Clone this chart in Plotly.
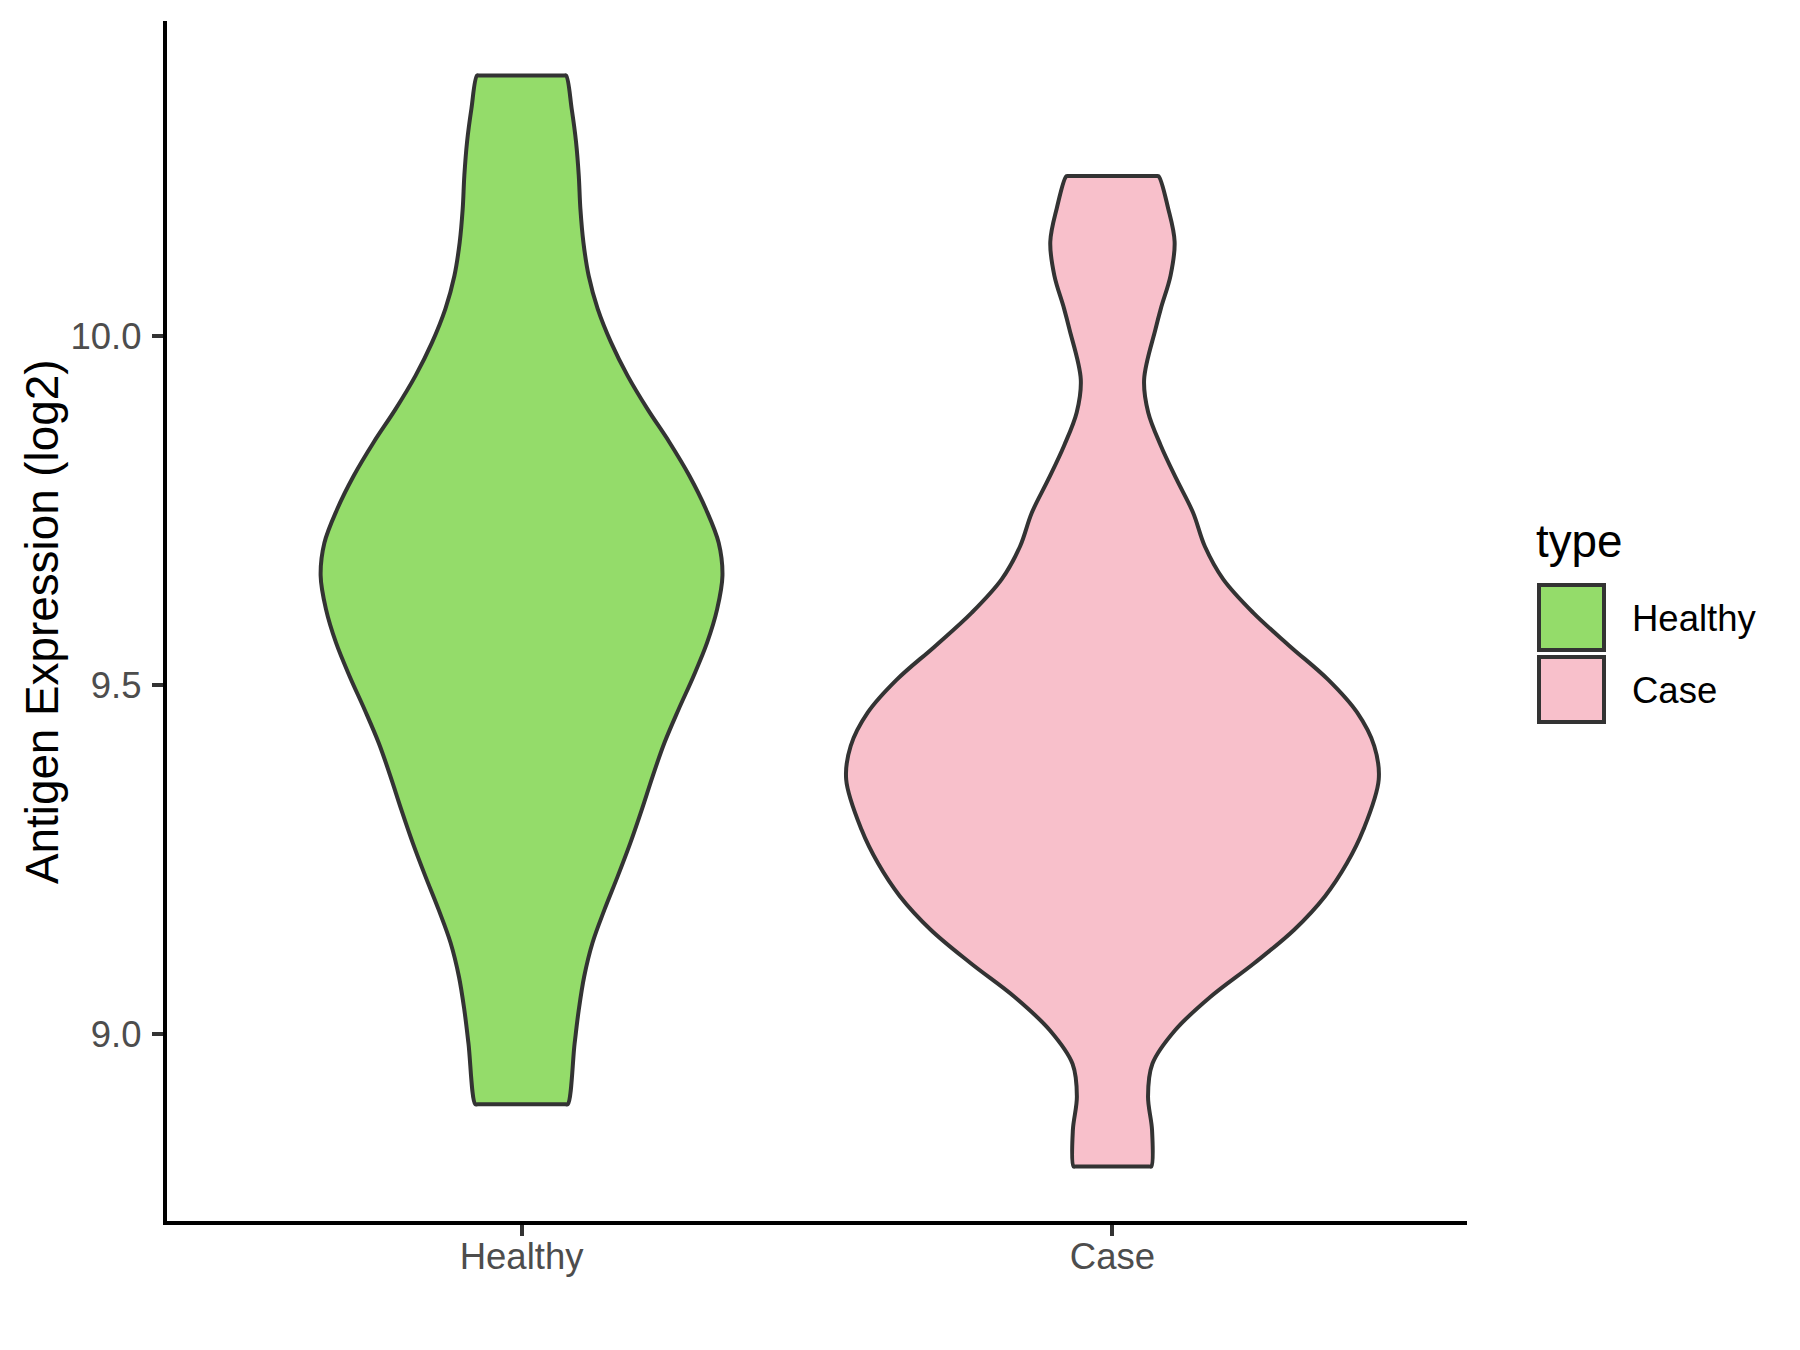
import plotly.graph_objects as go

# ---------------- data ----------------
categories = ["Healthy", "Case"]
legend_title = "type"
y_title = "Antigen Expression (log2)"
y_ticks = [9.0, 9.5, 10.0]
y_ticktext = ["9.0", "9.5", "10.0"]

# violin outline: expression level (top -> bottom) and half-width (density, x units)
healthy_y = [10.373, 10.325, 10.278, 10.230, 10.182, 10.134, 10.086, 10.039, 9.991,
             9.943, 9.895, 9.848, 9.800, 9.752, 9.704, 9.657, 9.609, 9.561, 9.513,
             9.465, 9.417, 9.370, 9.322, 9.274, 9.226, 9.178, 9.131, 9.083, 9.035,
             8.987, 8.900]
healthy_w = [0.0753, 0.0849, 0.0922, 0.0968, 0.0996, 0.1047, 0.1137, 0.1289, 0.1514,
             0.1796, 0.2135, 0.2502, 0.2840, 0.3121, 0.3336, 0.3400, 0.3310, 0.3140,
             0.2910, 0.2655, 0.2415, 0.2220, 0.2035, 0.1840, 0.1625, 0.1400, 0.1200,
             0.1060, 0.0968, 0.0898, 0.0782]

case_y = [10.229, 10.183, 10.135, 10.087, 10.040, 10.010, 9.938, 9.891, 9.843, 9.795,
          9.747, 9.699, 9.652, 9.604, 9.556, 9.508, 9.461, 9.413, 9.365, 9.293,
          9.245, 9.198, 9.150, 9.102, 9.054, 9.006, 8.958, 8.911, 8.863, 8.811]
case_w = [0.0779, 0.0942, 0.1052, 0.0984, 0.0821, 0.0729, 0.0536, 0.0604, 0.0819,
          0.1084, 0.1365, 0.1563, 0.1873, 0.2380, 0.3001, 0.3650, 0.4140, 0.4430,
          0.4506, 0.4245, 0.3967, 0.3598, 0.3076, 0.2398, 0.1660, 0.1060, 0.0676,
          0.0602, 0.0670, 0.0658]

fill_colors = ["#94DC6A", "#F8C0CB"]
outline_color = "#333333"

# ---------------- figure geometry ----------------
OFF = 8                      # page body margin of the written html
W, H = 1800 - OFF, 1350 - OFF
ML, MR, MT, MB = 159, 333, 13, 129
PW, PH = W - ML - MR, H - MT - MB
FONT = "Liberation Sans, Arial, Helvetica, sans-serif"


def px(x_page):
    return (x_page - OFF - ML) / PW


def py(y_page):
    return (H - MB - (y_page - OFF)) / PH


def violin_path(pos, ys, ws, eps=0.004):
    """Closed outline; tiny steps along the flat ends keep the corners sharp."""
    xs, yy = [], []
    for y, w in zip(ys, ws):                      # left side, top -> bottom
        xs.append(pos - w); yy.append(y)
    wb, yb = ws[-1], ys[-1]
    xs += [pos - wb + eps, pos + wb - eps]; yy += [yb, yb]
    for y, w in zip(reversed(ys), reversed(ws)):  # right side, bottom -> top
        xs.append(pos + w); yy.append(y)
    wt, yt = ws[0], ys[0]
    xs += [pos + wt - eps, pos - wt + eps, pos - wt]; yy += [yt, yt, yt]
    return xs, yy


fig = go.Figure()
for i, (ys, ws) in enumerate([(healthy_y, healthy_w), (case_y, case_w)]):
    xs, yy = violin_path(i + 1, ys, ws)
    fig.add_trace(go.Scatter(
        x=xs, y=yy, mode="lines", fill="toself",
        fillcolor=fill_colors[i],
        line=dict(color=outline_color, width=4, shape="spline", smoothing=1.0),
        name=categories[i], showlegend=False, hoverinfo="skip",
    ))

all_y = healthy_y + case_y
lo, hi = min(all_y), max(all_y)
pad = 0.05 * (hi - lo)

axis_common = dict(
    showgrid=False, zeroline=False,
    showline=True, linecolor="black", linewidth=4.3,
    ticks="outside", ticklen=11, tickwidth=4, tickcolor=outline_color,
    tickfont=dict(size=36.5, color="#4D4D4D", family=FONT),
)

fig.update_layout(
    width=W, height=H,
    margin=dict(l=ML, r=MR, t=MT, b=MB, autoexpand=False),
    paper_bgcolor="white", plot_bgcolor="white",
    font=dict(family=FONT, color="black"),
    showlegend=False,
    xaxis=dict(range=[0.4, 2.6], tickvals=[1, 2], ticktext=categories,
               ticklabelstandoff=-11, **axis_common),
    yaxis=dict(range=[lo - pad, hi + pad], tickvals=y_ticks, ticktext=y_ticktext,
               ticklabelstandoff=3, **axis_common),
)

# y-axis title
fig.add_annotation(
    text=y_title, xref="paper", yref="paper", x=px(42), y=py(622),
    xanchor="center", yanchor="middle", textangle=-90, showarrow=False,
    font=dict(size=45.8, color="black", family=FONT),
)

# legend (title, keys, labels)
fig.add_annotation(
    text=legend_title, xref="paper", yref="paper", x=px(1534), y=py(541),
    xanchor="left", yanchor="middle", showarrow=False,
    font=dict(size=45.8, color="black", family=FONT),
)
key_tops = [585, 657]
label_y = [618, 690]
for i, name in enumerate(categories):
    fig.add_shape(
        type="rect", xref="paper", yref="paper",
        x0=px(1539), x1=px(1604), y0=py(key_tops[i]), y1=py(key_tops[i] + 65),
        fillcolor=fill_colors[i], line=dict(color=outline_color, width=4),
    )
    fig.add_annotation(
        text=name, xref="paper", yref="paper", x=px(1630), y=py(label_y[i]),
        xanchor="left", yanchor="middle", showarrow=False,
        font=dict(size=36.5, color="black", family=FONT),
    )

fig.write_html("out.html")
